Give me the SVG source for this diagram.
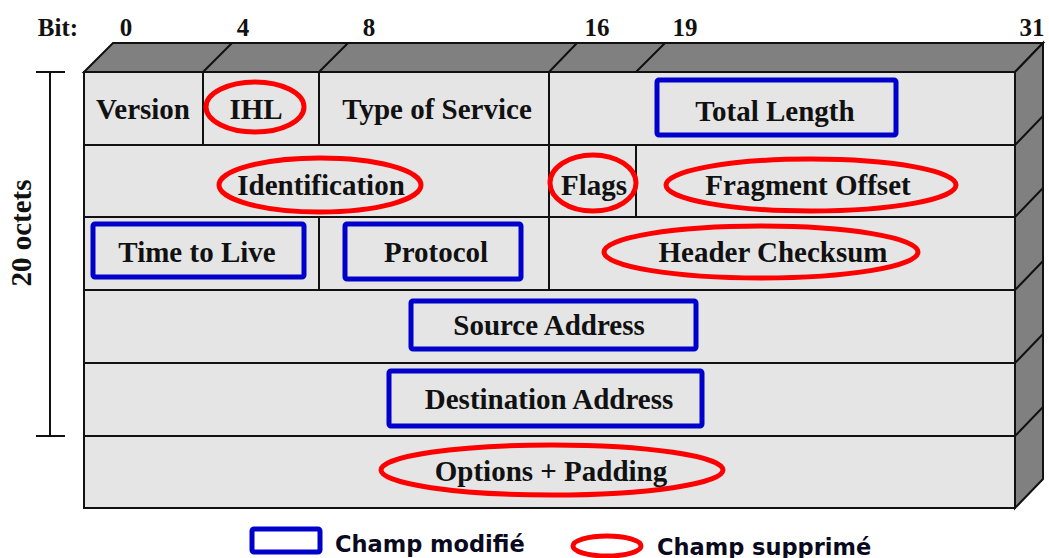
<svg xmlns="http://www.w3.org/2000/svg" width="1049" height="558" viewBox="0 0 1049 558">
<style>
.t{font-family:"Liberation Serif","Times New Roman",serif;font-weight:bold;font-size:29px;fill:#111;text-anchor:middle}
.b{font-family:"Liberation Serif","Times New Roman",serif;font-weight:bold;font-size:25px;fill:#111;text-anchor:middle}
.ln{stroke:#111;stroke-width:2;fill:none}
.mod{fill:none;stroke:#0000cc;stroke-width:5}
.sup{fill:none;stroke:#ff0000;stroke-width:5}
.lg{font-family:"DejaVu Sans",sans-serif;font-weight:bold;font-size:22.5px;fill:#0a0a1e}
</style>
<rect width="1049" height="558" fill="#ffffff"/>
<g id="header-labels">
<text class="b" x="58" y="36">Bit:</text>
<text class="b" x="126" y="36">0</text>
<text class="b" x="243" y="36">4</text>
<text class="b" x="369" y="36">8</text>
<text class="b" x="597" y="36">16</text>
<text class="b" x="685" y="36">19</text>
<text class="b" x="1032" y="36">31</text>
</g>
<g id="octets-bracket">
<line class="ln" x1="50" y1="72" x2="50" y2="436"/>
<line class="ln" x1="36" y1="72" x2="65" y2="72"/>
<line class="ln" x1="36" y1="436" x2="65" y2="436"/>
<text class="t" transform="translate(31,233) rotate(-90)">20 octets</text>
</g>
<g id="box">
<polygon points="84,72 113,43 1043,43 1015,72" fill="#808080" stroke="#111" stroke-width="2"/>
<polygon points="1015,72 1043,43 1043,479 1015,508" fill="#808080" stroke="#111" stroke-width="2"/>
<rect x="84" y="72" width="931" height="436" fill="#e5e5e5" stroke="#111" stroke-width="2"/>
<path class="ln" d="M203,72L232,43M319,72L348,43M549,72L577,43M636,72L665,43"/>
<path class="ln" d="M1015,145L1043,116M1015,217L1043,188M1015,290L1043,261M1015,363L1043,334M1015,436L1043,407"/>
<path class="ln" d="M84,145H1015M84,217H1015M84,290H1015M84,363H1015M84,436H1015"/>
<path class="ln" d="M203,72V145M319,72V145M549,72V145M549,145V217M636,145V217M319,217V290M549,217V290"/>
</g>
<g id="version"><text class="t" x="143" y="119">Version</text></g>
<g id="ihl"><ellipse class="sup" cx="255" cy="107" rx="49" ry="25"/><text class="t" x="256" y="119">IHL</text></g>
<g id="tos"><text class="t" x="437" y="119">Type of Service</text></g>
<g id="total-length"><rect class="mod" x="657" y="80" width="239" height="55" rx="2"/><text class="t" x="775" y="121">Total Length</text></g>
<g id="identification"><ellipse class="sup" cx="320" cy="185" rx="101" ry="27"/><text class="t" x="321" y="195">Identification</text></g>
<g id="flags"><ellipse class="sup" cx="593" cy="183" rx="43" ry="28"/><text class="t" x="594" y="195">Flags</text></g>
<g id="fragment-offset"><ellipse class="sup" cx="811" cy="185" rx="145" ry="26"/><text class="t" x="808" y="195">Fragment Offset</text></g>
<g id="ttl"><rect class="mod" x="93" y="224" width="211" height="53" rx="2"/><text class="t" x="197" y="262">Time to Live</text></g>
<g id="protocol"><rect class="mod" x="345" y="224" width="176" height="55" rx="2"/><text class="t" x="436" y="262">Protocol</text></g>
<g id="header-checksum"><ellipse class="sup" cx="761" cy="252" rx="157" ry="26"/><text class="t" x="773" y="262">Header Checksum</text></g>
<g id="source-address"><rect class="mod" x="411" y="301" width="285" height="48" rx="2"/><text class="t" x="549" y="335">Source Address</text></g>
<g id="destination-address"><rect class="mod" x="389" y="371" width="313" height="55" rx="2"/><text class="t" x="549" y="409">Destination Address</text></g>
<g id="options"><ellipse class="sup" cx="552" cy="470" rx="171" ry="25"/><text class="t" x="551" y="481">Options + Padding</text></g>
<g id="legend">
<rect class="mod" x="252" y="529" width="68" height="23" rx="2"/>
<text class="lg" x="335" y="552">Champ modifié</text>
<ellipse class="sup" cx="607" cy="546" rx="34" ry="10"/>
<text class="lg" x="657" y="555">Champ supprimé</text>
</g>
</svg>
